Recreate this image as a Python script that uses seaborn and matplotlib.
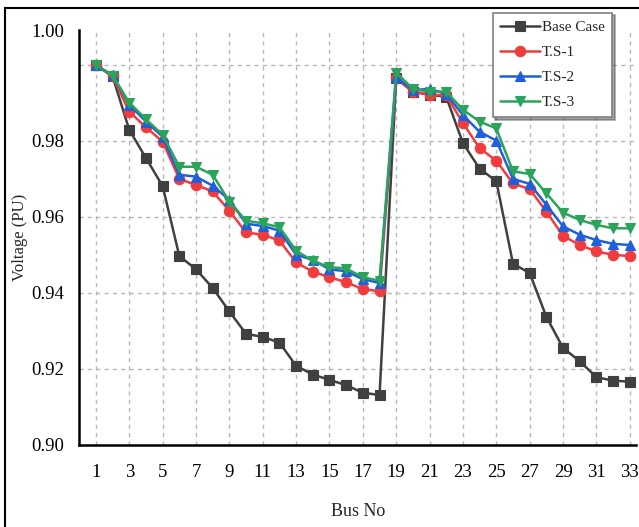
import numpy as np
import pandas as pd
import matplotlib
matplotlib.use("Agg")
import matplotlib.pyplot as plt
from matplotlib.patches import Rectangle
from matplotlib.ticker import MultipleLocator, FixedLocator
import seaborn as sns

bus = list(range(1, 34))
base_case = [1.0000, 0.9970, 0.9829, 0.9755, 0.9681, 0.9497, 0.9462, 0.9413, 0.9351,
             0.9292, 0.9284, 0.9269, 0.9208, 0.9185, 0.9171, 0.9157, 0.9137, 0.9131,
             0.9965, 0.9929, 0.9922, 0.9916, 0.9794, 0.9727, 0.9694, 0.9477, 0.9452,
             0.9337, 0.9255, 0.9220, 0.9178, 0.9169, 0.9166]
ts1 = [1.0000, 0.9970, 0.9877, 0.9836, 0.9798, 0.9700, 0.9684, 0.9667, 0.9616,
       0.9559, 0.9553, 0.9538, 0.9480, 0.9456, 0.9441, 0.9428, 0.9410, 0.9404,
       0.9966, 0.9930, 0.9922, 0.9920, 0.9847, 0.9781, 0.9748, 0.9688, 0.9673,
       0.9614, 0.9550, 0.9526, 0.9509, 0.9500, 0.9497]
ts2 = [1.0000, 0.9973, 0.9895, 0.9851, 0.9811, 0.9711, 0.9706, 0.9682, 0.9645,
       0.9582, 0.9576, 0.9564, 0.9500, 0.9487, 0.9462, 0.9457, 0.9436, 0.9426,
       0.9968, 0.9934, 0.9937, 0.9924, 0.9868, 0.9824, 0.9801, 0.9700, 0.9687,
       0.9632, 0.9575, 0.9553, 0.9539, 0.9529, 0.9526]
ts3 = [1.0000, 0.9972, 0.9901, 0.9857, 0.9816, 0.9732, 0.9732, 0.9711, 0.9640,
       0.9590, 0.9583, 0.9573, 0.9511, 0.9484, 0.9468, 0.9464, 0.9441, 0.9432,
       0.9980, 0.9937, 0.9930, 0.9930, 0.9882, 0.9851, 0.9833, 0.9720, 0.9713,
       0.9662, 0.9611, 0.9592, 0.9579, 0.9570, 0.9570]

series_names = ["Base Case", "T.S-1", "T.S-2", "T.S-3"]
series_vals = [base_case, ts1, ts2, ts3]
colors = ["#404040", "#f03c3c", "#1f5fdc", "#2ca35a"]
markers = ["s", "o", "^", "v"]

x_tick_labels = [str(b) for b in range(1, 34, 2)]
y_tick_labels = ["0.90", "0.92", "0.94", "0.96", "0.98", "", "1.00"]
YTOP = 1.0092

sns.set_style("white")
plt.rcParams["font.family"] = ["Liberation Serif", "DejaVu Serif"]

fig = plt.figure(figsize=(6.39, 5.27), dpi=100)
ax = fig.add_axes([0.124, 0.156, 0.872, 0.787])

for name, vals, c, m in zip(series_names, series_vals, colors, markers):
    sns.lineplot(x=bus, y=vals, ax=ax, color=c, marker=m, markersize=7.5,
                 markeredgecolor=c, markeredgewidth=0.8, linewidth=1.8, label=name)

ax.set_xlim(0, 33.4)
ax.set_ylim(0.90, YTOP)

ax.xaxis.set_major_locator(FixedLocator(list(range(1, 34, 2))))
ax.set_xticklabels(x_tick_labels)
ax.xaxis.set_minor_locator(FixedLocator(list(range(0, 34, 2))))
yt = [0.90, 0.92, 0.94, 0.96, 0.98, 1.00, YTOP]
ax.yaxis.set_major_locator(FixedLocator(yt))
ax.set_yticklabels(y_tick_labels)
ax.yaxis.set_minor_locator(FixedLocator([0.91, 0.93, 0.95, 0.97, 0.99]))

ax.tick_params(axis="both", which="major", direction="out", length=7, width=1.6,
               labelsize=13.5, colors="black", pad=4)
ax.tick_params(axis="both", which="minor", direction="out", length=4, width=1.4)
ax.tick_params(axis="x", which="major", pad=7)

for s in ["top", "right"]:
    ax.spines[s].set_visible(False)
for s in ["left", "bottom"]:
    ax.spines[s].set_color("black")
    ax.spines[s].set_linewidth(1.8)

ax.grid(True, which="major", color="#b8b8b8", linestyle=(0, (3, 3)), linewidth=1.0)
ax.set_axisbelow(True)
ticks = ax.yaxis.get_major_ticks()
ticks[-1].gridline.set_visible(False)
ticks[0].gridline.set_visible(False)

ax.set_xlabel("Bus No", fontsize=13, labelpad=16)
ax.set_ylabel("Voltage (PU)", fontsize=12, labelpad=2)

leg = ax.legend(loc="upper left", bbox_to_anchor=(0.771, 0.976),
                bbox_transform=fig.transFigure, fontsize=11, frameon=True,
                fancybox=False, shadow=True, handlelength=2.6, handletextpad=0.1,
                labelspacing=0.75, borderpad=0.5, borderaxespad=0)
leg.get_frame().set_edgecolor("#808080")
leg.get_frame().set_linewidth(1.2)

fig.patches.append(Rectangle((0.008, -0.01), 1.1, 0.995, transform=fig.transFigure,
                             fill=False, edgecolor="black", linewidth=1.5))

fig.savefig("out.png", dpi=100)
